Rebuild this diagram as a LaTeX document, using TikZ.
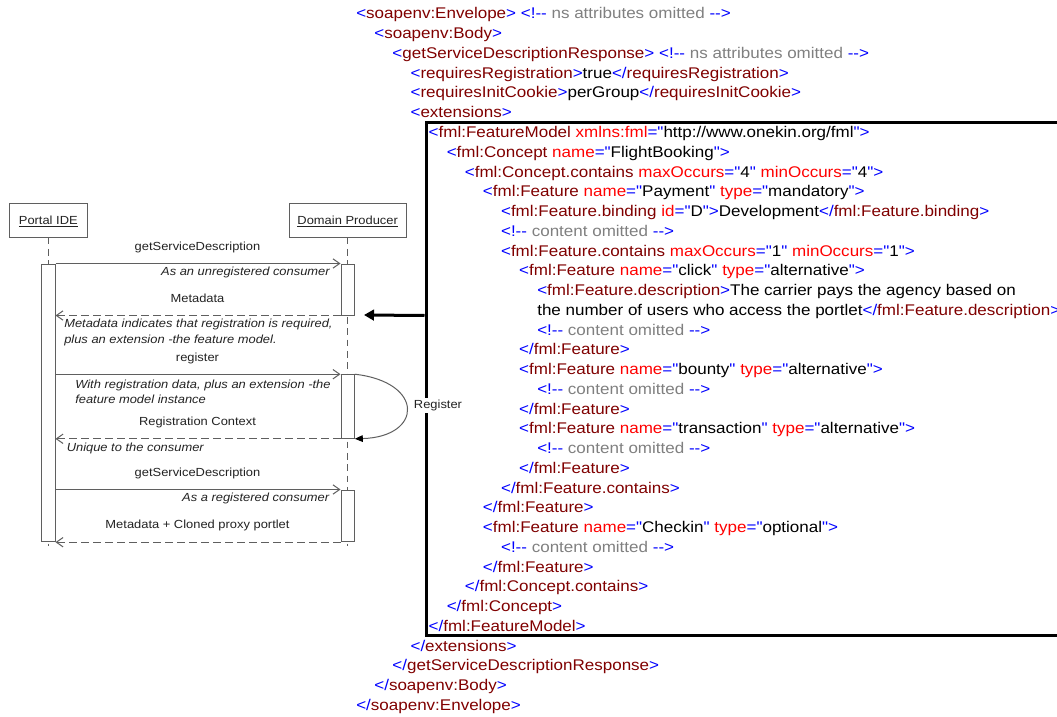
\documentclass[tikz,border=0pt]{standalone}
\usepackage{fontspec}
\setmainfont[FakeStretch=1.1]{Liberation Sans}
\usetikzlibrary{arrows.meta,fit}

\definecolor{xblue}{RGB}{0,0,255}
\definecolor{xmaroon}{RGB}{128,0,0}
\definecolor{xred}{RGB}{255,0,0}
\definecolor{xgray}{RGB}{128,128,128}
\definecolor{seqline}{RGB}{95,95,95}
\definecolor{seqtext}{RGB}{35,35,35}

% listing font loaded without any character mapping, so " and -- stay literal
\font\xmlfnt="Liberation Sans:extend=1.1" at 11.6pt
\newcommand\seqsize{\fontsize{8.8pt}{10pt}\selectfont}

% XML markup helpers
\newcommand\xop[1]{\textcolor{xblue}{<}\textcolor{xmaroon}{#1}}
\newcommand\xcl[1]{\textcolor{xblue}{</}\textcolor{xmaroon}{#1}\textcolor{xblue}{>}}
\newcommand\xgt{\textcolor{xblue}{>}}
\newcommand\xat[2]{\ \textcolor{xred}{#1}\textcolor{xblue}{="}#2\textcolor{xblue}{"}}
\newcommand\xcm[1]{\textcolor{xblue}{<!--}\ \textcolor{xgray}{#1}\ \textcolor{xblue}{-->}}
% one XML line: level, line number, content
\newcommand\xline[3]{\node[xml] (x#2) at ({356+18.1*#1},{19+19.75*(#2-1)}) {#3};}

\tikzset{
  xml/.style={anchor=base west, inner sep=0pt, font=\xmlfnt, text=black},
  lifebox/.style={draw=seqline, fill=white, line width=0.75pt, inner sep=0pt},
  act/.style={draw=seqline, fill=white, line width=0.75pt, inner sep=0pt},
  lifeline/.style={draw=seqline, line width=0.75pt, dash pattern=on 5pt off 3.5pt},
  call/.style={draw=seqline, line width=0.75pt, -{Straight Barb[length=5pt,width=7pt]}},
  reply/.style={call, dash pattern=on 6pt off 3pt},
  selfcall/.style={draw=seqline, line width=0.75pt, -{Triangle[length=6pt,width=5pt,color=black]}},
  lbl/.style={text=seqtext, font=\seqsize, inner sep=0pt},
  note/.style={lbl, font=\seqsize\itshape},
  fmframe/.style={draw=black, line width=2.25pt, inner sep=0pt},
  bigarrow/.style={draw=black, line width=2.25pt, -{Triangle[length=7.5pt,width=8pt]}},
}

\begin{document}
\begin{tikzpicture}[x=0.75pt, y=-0.75pt]
\useasboundingbox (0,0) rectangle (1057,717);
\fill[white] (0,0) rectangle (1057,717);
\clip (0,0) rectangle (1057,717);

% ---------- SOAP response listing ----------
\xline{0}{1}{\xop{soapenv:Envelope}\xgt\ \xcm{ns attributes omitted}}
\xline{1}{2}{\xop{soapenv:Body}\xgt}
\xline{2}{3}{\xop{getServiceDescriptionResponse}\xgt\ \xcm{ns attributes omitted}}
\xline{3}{4}{\xop{requiresRegistration}\xgt true\xcl{requiresRegistration}}
\xline{3}{5}{\xop{requiresInitCookie}\xgt perGroup\xcl{requiresInitCookie}}
\xline{3}{6}{\xop{extensions}\xgt}
\xline{4}{7}{\xop{fml:FeatureModel}\xat{xmlns:fml}{http://www.onekin.org/fml}\xgt}
\xline{5}{8}{\xop{fml:Concept}\xat{name}{FlightBooking}\xgt}
\xline{6}{9}{\xop{fml:Concept.contains}\xat{maxOccurs}{4}\xat{minOccurs}{4}\xgt}
\xline{7}{10}{\xop{fml:Feature}\xat{name}{Payment}\xat{type}{mandatory}\xgt}
\xline{8}{11}{\xop{fml:Feature.binding}\xat{id}{D}\xgt Development\xcl{fml:Feature.binding}}
\xline{8}{12}{\xcm{content omitted}}
\xline{8}{13}{\xop{fml:Feature.contains}\xat{maxOccurs}{1}\xat{minOccurs}{1}\xgt}
\xline{9}{14}{\xop{fml:Feature}\xat{name}{click}\xat{type}{alternative}\xgt}
\xline{10}{15}{\xop{fml:Feature.description}\xgt The carrier pays the agency based on}
\xline{10}{16}{the number of users who access the portlet\xcl{fml:Feature.description}}
\xline{10}{17}{\xcm{content omitted}}
\xline{9}{18}{\xcl{fml:Feature}}
\xline{9}{19}{\xop{fml:Feature}\xat{name}{bounty}\xat{type}{alternative}\xgt}
\xline{10}{20}{\xcm{content omitted}}
\xline{9}{21}{\xcl{fml:Feature}}
\xline{9}{22}{\xop{fml:Feature}\xat{name}{transaction}\xat{type}{alternative}\xgt}
\xline{10}{23}{\xcm{content omitted}}
\xline{9}{24}{\xcl{fml:Feature}}
\xline{8}{25}{\xcl{fml:Feature.contains}}
\xline{7}{26}{\xcl{fml:Feature}}
\xline{7}{27}{\xop{fml:Feature}\xat{name}{Checkin}\xat{type}{optional}\xgt}
\xline{8}{28}{\xcm{content omitted}}
\xline{7}{29}{\xcl{fml:Feature}}
\xline{6}{30}{\xcl{fml:Concept.contains}}
\xline{5}{31}{\xcl{fml:Concept}}
\xline{4}{32}{\xcl{fml:FeatureModel}}
\xline{3}{33}{\xcl{extensions}}
\xline{2}{34}{\xcl{getServiceDescriptionResponse}}
\xline{1}{35}{\xcl{soapenv:Body}}
\xline{0}{36}{\xcl{soapenv:Envelope}}

% frame around the feature model
\node[fmframe, fit={(426,123)(1075,635)}] (fm) {};

% ---------- sequence diagram ----------
\node[lifebox, fit={(9,203)(87,237)}] (pide) {};
\node[lbl, anchor=base] (pidet) at (48.3,224) {\underline{Portal IDE}};
\node[lifebox, fit={(289,203)(406,237)}] (dpb) {};
\node[lbl, anchor=base] (dpbt) at (347.7,224) {\underline{Domain Producer}};

\coordinate (pend) at (48.3,546);
\coordinate (dend) at (347.7,546);
\draw[lifeline] (pidet |- pide.south) -- (pend);
\draw[lifeline] (dpbt |- dpb.south) -- (dend);

\node[act, fit={(41.7,264)(55,541)}] (pa) {};
\node[act, fit={(341,264)(354.3,315)}] (d1) {};
\node[act, fit={(341,374.7)(354.3,438.3)}] (d2) {};
\node[act, fit={(341,490)(354.3,541.7)}] (d3) {};

\draw[call]  (pa.east |- d1.north west) -- (d1.north west);
\draw[reply] (d1.south west) -- (pa.east |- d1.south west);
\draw[call]  (pa.east |- d2.north west) -- (d2.north west);
\draw[reply] (d2.south west) -- (pa.east |- d2.south west);
\draw[call]  (pa.east |- d3.north west) -- (d3.north west);
\draw[reply] (d3.south west) -- (pa.east |- d3.south west);

\draw[selfcall] (d2.north east) .. controls +(70,8) and +(68,-2) .. (d2.south east);

\node[lbl, anchor=base] (m1) at (197.5,250.7) {getServiceDescription};
\node[note, anchor=base east] (n1) at (330,275) {As an unregistered consumer};
\node[lbl, anchor=base] (m2) at (197.5,302.3) {Metadata};
\node[note, anchor=base west] (n2a) at (64,327.3) {Metadata indicates that registration is required,};
\node[note, anchor=base west] (n2b) at (64,343.3) {plus an extension -the feature model.};
\node[lbl, anchor=base] (m3) at (197.5,361.7) {register};
\node[note, anchor=base west] (n3a) at (75,388.3) {With registration data, plus an extension -the};
\node[note, anchor=base west] (n3b) at (75,403.3) {feature model instance};
\node[lbl, anchor=base] (m4) at (197.5,425) {Registration Context};
\node[note, anchor=base west] (n4) at (66.5,451.7) {Unique to the consumer};
\node[lbl, anchor=base] (m5) at (197.5,476.7) {getServiceDescription};
\node[note, anchor=base east] (n5) at (329.5,501.7) {As a registered consumer};
\node[lbl, anchor=base] (m6) at (197.5,528.3) {Metadata + Cloned proxy portlet};

% link from the feature model to the metadata reply
\coordinate (tip) at (364,315);
\draw[bigarrow] (fm.west |- d1.south) -- (tip);

\node[lbl, anchor=base, fill=white, inner sep=1.5pt] (reg) at (438,408.5) {Register};
\end{tikzpicture}
\end{document}
